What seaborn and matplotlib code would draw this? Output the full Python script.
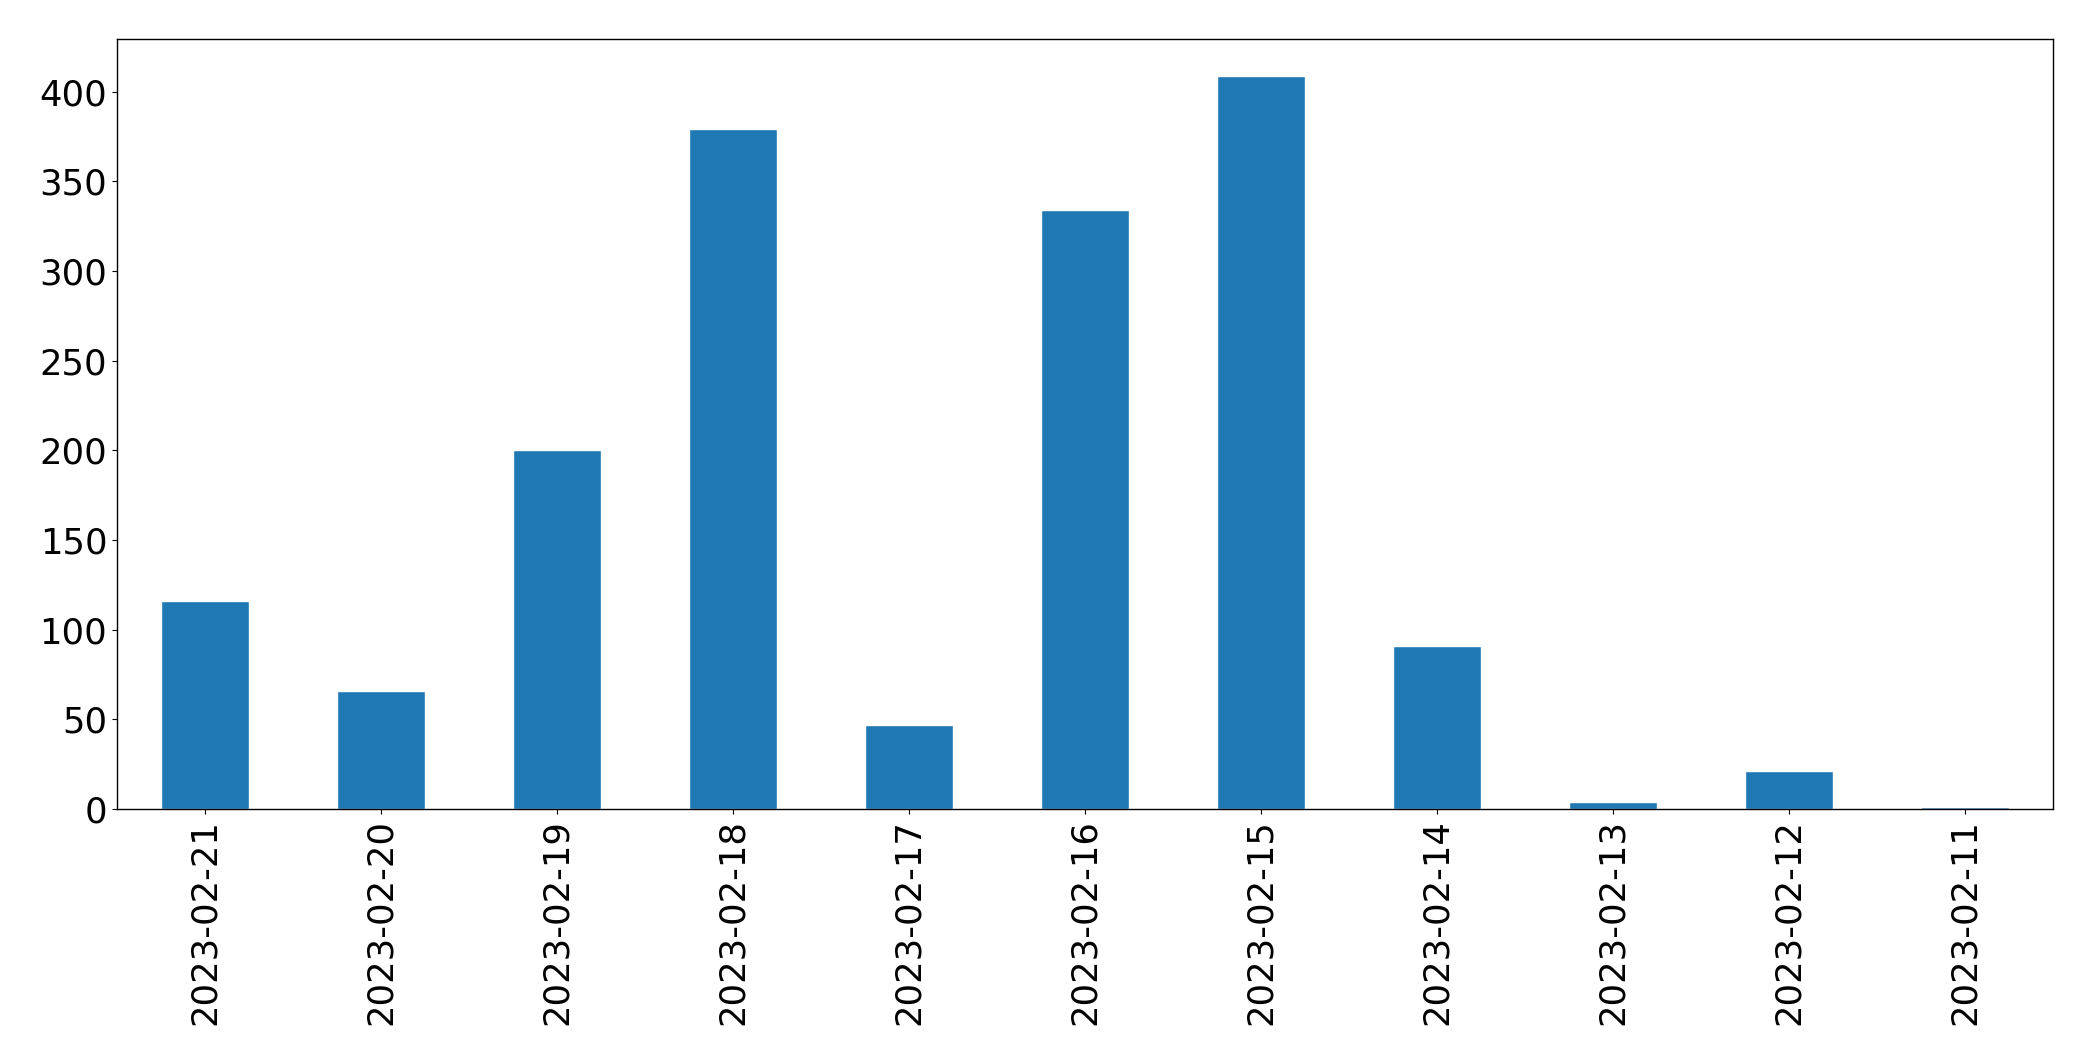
import pandas as pd
import matplotlib
matplotlib.use("Agg")
import matplotlib.pyplot as plt
import seaborn as sns

# daily counts, newest first (as in the reference)
dates = ["2023-02-21", "2023-02-20", "2023-02-19", "2023-02-18", "2023-02-17",
         "2023-02-16", "2023-02-15", "2023-02-14", "2023-02-13", "2023-02-12",
         "2023-02-11"]
counts = [116, 66, 200, 379, 47, 334, 409, 91, 4, 21, 1]

df = pd.DataFrame({"date": dates, "count": counts})

sns.set_style("ticks")
plt.rcParams["font.family"] = ["DejaVu Sans"]
plt.rcParams["text.color"] = "black"
plt.rcParams["xtick.color"] = "black"
plt.rcParams["ytick.color"] = "black"

fig, ax = plt.subplots(figsize=(20.93, 10.61), dpi=100)
fig.subplots_adjust(left=117 / 2093, right=2053 / 2093,
                    top=1 - 39 / 1061, bottom=1 - 809 / 1061)

sns.barplot(data=df, x="date", y="count", order=dates, color="#1f77b4",
            saturation=1, width=0.5, ax=ax)

ax.set_xlim(-0.5, len(dates) - 0.5)
ax.set_ylim(0, max(counts) * 1.05)
ax.set_xlabel("")
ax.set_ylabel("")
ax.tick_params(axis="x", labelrotation=90, labelsize=25.5, colors="black")
ax.tick_params(axis="y", labelsize=25.5, colors="black")
for s in ax.spines.values():
    s.set_visible(True)
    s.set_color("black")
    s.set_linewidth(1)

fig.savefig("out.png", dpi=100)
